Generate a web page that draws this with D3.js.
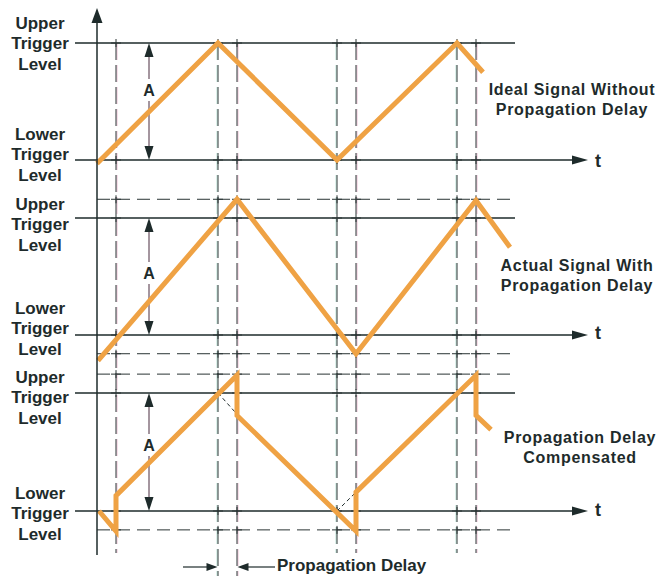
<!DOCTYPE html>
<html>
<head>
<meta charset="utf-8">
<script src="https://cdn.jsdelivr.net/npm/d3@7"></script>
<style>
  html, body { margin: 0; padding: 0; background: #fff; }
  svg { display: block; }
</style>
</head>
<body>
<div id="chart"></div>
<script>
// time in px-like units from the vertical axis, level: 0 = lower trigger, 1 = upper trigger
const switchTimes = [19, 121, 140, 240, 259, 360, 379];
const delayedTimes = [19, 140, 259, 379];
const overshootLevels = [1.16, -0.16];
const idealSignal = [[0, -0.03], [121, 1], [240, 0], [360, 1], [386, 0.75]];
const actualSignal = [[1, -0.22], [140, 1.16], [259, -0.16], [379, 1.15], [413, 0.75]];
const compensatedSignal = [[2, 0], [19, -0.17], [19, 0.13], [140, 1.15], [140, 0.81],
  [259, -0.17], [259, 0.16], [379, 1.15], [379, 0.81], [394, 0.69]];
const compensationGuides = [[[121, 1], [140, 0.82]], [[240, 0], [259, 0.16]]];
const upperLabel = ['Upper', 'Trigger', 'Level'];
const lowerLabel = ['Lower', 'Trigger', 'Level'];
const signalTitles = [
  ['Ideal Signal Without', 'Propagation Delay'],
  ['Actual Signal With', 'Propagation Delay'],
  ['Propagation Delay', 'Compensated']
];
const delayLabel = 'Propagation Delay';

const W = 661, H = 576;
const ink = '#1e2b2b';
const orange = '#efa244';

const svg = d3.select('#chart')
  .append('svg')
  .attr('width', W)
  .attr('height', H);

const x = d3.scaleLinear().domain([0, 400]).range([97, 497]);

// panel layout
const panels = [
  { lower: 160, upper: 43, signal: idealSignal, overshoot: false,
    upLab: 49, lowLab: 160, aY: 90, titleY: 95, titleX: 572, tY: 167 },
  { lower: 335, upper: 218, signal: actualSignal, overshoot: true,
    upLab: 230, lowLab: 334, aY: 273, titleY: 271, titleX: 577, tY: 339 },
  { lower: 511, upper: 393, signal: compensatedSignal, overshoot: true,
    upLab: 403, lowLab: 519, aY: 445, titleY: 443, titleX: 580, tY: 516 }
];

function arrowHead(g, tx, ty, angle, len, hw) {
  const c = Math.cos(angle), s = Math.sin(angle);
  const pts = [
    [tx, ty],
    [tx - len * c - hw * s, ty - len * s + hw * c],
    [tx - len * c + hw * s, ty - len * s - hw * c]
  ];
  g.append('path')
    .attr('d', 'M' + pts.map(p => p.join(',')).join('L') + 'Z')
    .attr('fill', ink);
}

const grid = svg.append('g');

// vertical dashed switch lines (with a bit of print misregistration colour)
switchTimes.forEach(t => {
  const long = (t === 121 || t === 140);
  const bottom = long ? 576 : 553;
  const delayed = delayedTimes.includes(t);
  grid.append('line')
    .attr('x1', x(t) + (delayed ? 1 : -1)).attr('x2', x(t) + (delayed ? 1 : -1))
    .attr('y1', panels[0].upper).attr('y2', bottom)
    .attr('stroke', delayed ? '#d0508a' : '#3fae8a')
    .attr('stroke-width', 0.8)
    .attr('stroke-dasharray', '17,5')
    .attr('opacity', 0.45);
  grid.append('line')
    .attr('x1', x(t)).attr('x2', x(t))
    .attr('y1', panels[0].upper).attr('y2', bottom)
    .attr('stroke', '#2a3434')
    .attr('stroke-width', 1)
    .attr('stroke-dasharray', '17,5');
});

panels.forEach((p, i) => {
  const y = d3.scaleLinear().domain([0, 1]).range([p.lower, p.upper]);
  const g = svg.append('g');

  // overshoot dashed levels
  if (p.overshoot) {
    overshootLevels.forEach(v => {
      g.append('line')
        .attr('x1', 97).attr('x2', 515)
        .attr('y1', y(v)).attr('y2', y(v))
        .attr('stroke', '#2a3434')
        .attr('stroke-width', 1)
        .attr('stroke-dasharray', '13,7');
    });
  }

  // trigger levels
  g.append('line')
    .attr('x1', 75).attr('x2', 515)
    .attr('y1', y(1)).attr('y2', y(1))
    .attr('stroke', ink).attr('stroke-width', 1.5);
  g.append('line')
    .attr('x1', 75).attr('x2', 580)
    .attr('y1', y(0)).attr('y2', y(0))
    .attr('stroke', ink).attr('stroke-width', 1.5);
  arrowHead(g, 588, y(0), 0, 16, 4.5);
  g.append('text')
    .attr('x', 595).attr('y', p.tY)
    .attr('font-family', 'Liberation Sans, Arial, sans-serif')
    .attr('font-weight', 'bold')
    .attr('font-size', 18)
    .attr('fill', ink)
    .text('t');

  // small crosses where switch lines meet the levels
  const levels = p.overshoot ? [0, 1].concat(overshootLevels) : [0, 1];
  switchTimes.forEach(t => {
    levels.forEach(v => {
      g.append('path')
        .attr('d', `M${x(t) - 5},${y(v)}H${x(t) + 5}M${x(t)},${y(v) - 4}V${y(v) + 4}`)
        .attr('stroke', '#2a3434').attr('stroke-width', 1);
    });
  });

  // amplitude arrow A
  g.append('line')
    .attr('x1', 149).attr('x2', 149)
    .attr('y1', y(1) + 4).attr('y2', y(0) - 4)
    .attr('stroke', '#4a2c3e').attr('stroke-width', 1);
  arrowHead(g, 149, y(1), -Math.PI / 2, 14, 4.5);
  arrowHead(g, 149, y(0), Math.PI / 2, 14, 4.5);
  g.append('rect')
    .attr('x', 141).attr('y', p.aY - 11)
    .attr('width', 16).attr('height', 22)
    .attr('fill', '#fff');
  g.append('text')
    .attr('x', 149).attr('y', p.aY + 6)
    .attr('text-anchor', 'middle')
    .attr('font-family', 'Liberation Sans, Arial, sans-serif')
    .attr('font-weight', 'bold')
    .attr('font-size', 16)
    .attr('fill', ink)
    .text('A');

  // compensation guides
  if (i === 2) {
    compensationGuides.forEach(seg => {
      g.append('path')
        .attr('d', d3.line().x(d => x(d[0])).y(d => y(d[1]))(seg))
        .attr('stroke', ink).attr('stroke-width', 1)
        .attr('stroke-dasharray', '4,3')
        .attr('fill', 'none');
    });
  }

  // signal
  g.append('path')
    .attr('d', d3.line().x(d => x(d[0])).y(d => y(d[1]))(p.signal))
    .attr('fill', 'none')
    .attr('stroke', orange)
    .attr('stroke-width', 5)
    .attr('stroke-linejoin', 'miter')
    .attr('stroke-miterlimit', 3);

  // level labels
  const labFont = g => g
    .attr('text-anchor', 'middle')
    .attr('font-family', 'Liberation Sans, Arial, sans-serif')
    .attr('font-weight', 'bold')
    .attr('font-size', 17)
    .attr('fill', ink);
  [[upperLabel, p.upLab], [lowerLabel, p.lowLab]].forEach(([lines, base]) => {
    lines.forEach((s, k) => {
      g.append('text')
        .attr('x', 40)
        .attr('y', base + (k - 1) * 20.5)
        .call(labFont)
        .text(s);
    });
  });

  // signal title
  signalTitles[i].forEach((s, k) => {
    g.append('text')
      .attr('x', p.titleX)
      .attr('y', p.titleY + k * 19.5)
      .attr('text-anchor', 'middle')
      .attr('font-family', 'Liberation Sans, Arial, sans-serif')
      .attr('font-weight', 'bold')
      .attr('font-size', 16)
      .attr('letter-spacing', 0.7)
      .attr('fill', ink)
      .text(s);
  });
});

// vertical axis
svg.append('line')
  .attr('x1', 97).attr('x2', 97)
  .attr('y1', 20).attr('y2', 555)
  .attr('stroke', ink).attr('stroke-width', 1.5);
arrowHead(svg, 97, 8, -Math.PI / 2, 15, 5.5);

// propagation delay annotation
const ann = svg.append('g');
ann.append('line')
  .attr('x1', 183).attr('x2', x(121) - 8)
  .attr('y1', 567).attr('y2', 567)
  .attr('stroke', ink).attr('stroke-width', 1.2);
arrowHead(ann, x(121) - 0.5, 567, 0, 11, 4);
ann.append('line')
  .attr('x1', x(140) + 8).attr('x2', 275)
  .attr('y1', 567).attr('y2', 567)
  .attr('stroke', ink).attr('stroke-width', 1.2);
arrowHead(ann, x(140) + 0.5, 567, Math.PI, 11, 4);
ann.append('text')
  .attr('x', 277).attr('y', 571)
  .attr('font-family', 'Liberation Sans, Arial, sans-serif')
  .attr('font-weight', 'bold')
  .attr('font-size', 17)
  .attr('fill', ink)
  .text(delayLabel);
</script>
</body>
</html>
